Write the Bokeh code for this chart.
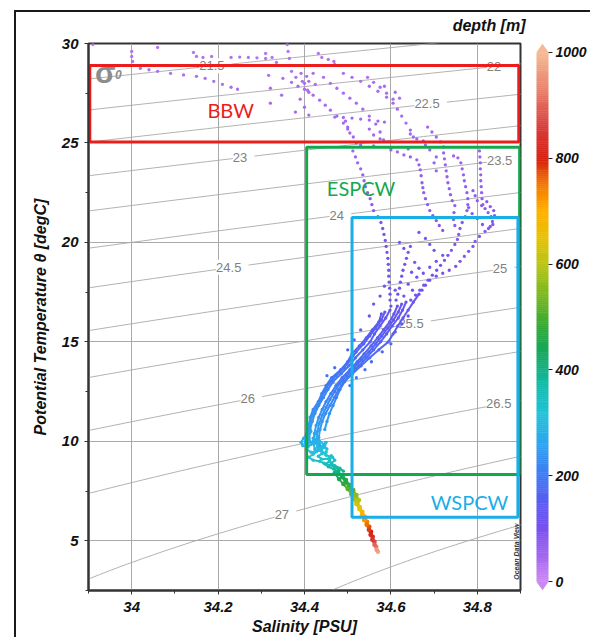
import numpy as np
from bokeh.plotting import figure
from bokeh.models import (ColumnDataSource, LinearColorMapper, FixedTicker,
                          NumeralTickFormatter, Label, LabelSet, Range1d, Title)
from bokeh.layouts import row
from bokeh.core.properties import value
from bokeh.embed import file_html
from bokeh.resources import INLINE

# ---------------- data: (salinity [PSU], potential temperature [degC], depth [m]) ----------------
upper_west = [
    (33.91, 29.95, 30), (34.0, 29.6, 32), (34.0, 29.35, 33), (34.002, 29.1, 34), (34.06, 29.8, 30),
    (34.02, 28.75, 36), (34.04, 28.68, 36), (34.06, 28.6, 37), (34.09, 28.5, 37), (34.12, 28.42, 38),
    (34.15, 28.35, 38), (34.17, 28.25, 39), (34.19, 28.1, 40), (34.21, 27.95, 40), (34.23, 27.8, 41),
    (34.245, 27.7, 42), (34.143, 29.55, 30), (34.15, 29.35, 31), (34.165, 29.3, 31), (34.185, 29.35, 31),
    (34.23, 29.3, 32), (34.25, 29.32, 32), (34.27, 29.3, 33), (34.29, 29.28, 33), (34.31, 29.25, 34),
    (34.31, 29.5, 30), (34.325, 29.3, 31), (34.335, 29.05, 33), (34.317, 28.4, 38), (34.321, 27.75, 42),
    (34.321, 27.0, 46), (34.347, 27.4, 44), (34.379, 26.55, 48), (34.36, 29.95, 28), (34.362, 29.6, 30),
    (34.365, 29.25, 32), (34.365, 28.9, 34), (34.37, 28.6, 36), (34.35, 28.25, 38), (34.37, 28.05, 40),
    (34.385, 27.85, 41), (34.4, 27.7, 42), (34.41, 27.55, 43), (34.38, 28.3, 38), (34.395, 28.1, 40),
]
upper_east = [
    (34.432, 29.5, 30), (34.44, 29.3, 31), (34.455, 29.2, 32), (34.468, 29.1, 33), (34.47, 28.95, 34),
    (34.392, 28.5, 36), (34.405, 28.35, 37), (34.42, 28.5, 36), (34.41, 28.1, 39), (34.425, 27.95, 40),
    (34.4, 28.0, 40),
    (34.407, 27.65, 42), (34.42, 27.4, 43), (34.435, 27.15, 44), (34.448, 26.9, 45), (34.46, 26.65, 46),
    (34.475, 26.35, 47), (34.49, 26.0, 48), (34.5, 25.7, 49), (34.513, 25.3, 50), (34.52, 25.0, 51),
    (34.444, 28.3, 38), (34.46, 28.0, 39), (34.475, 27.75, 41), (34.49, 27.5, 42), (34.505, 27.25, 43),
    (34.52, 27.0, 44), (34.535, 26.7, 45), (34.55, 26.35, 46), (34.565, 25.95, 48), (34.575, 25.55, 49),
    (34.583, 25.15, 50),
    (34.49, 28.5, 37), (34.51, 28.3, 38), (34.53, 28.1, 39), (34.55, 27.85, 40), (34.57, 27.6, 41),
    (34.59, 27.3, 42), (34.605, 27.0, 43), (34.615, 26.7, 44), (34.625, 26.35, 45), (34.635, 26.0, 46),
    (34.645, 25.65, 48), (34.652, 25.3, 49),
    (34.546, 28.3, 38), (34.56, 28.05, 39), (34.575, 27.8, 40), (34.59, 27.5, 41), (34.605, 27.2, 42),
    (34.585, 27.85, 40), (34.61, 27.55, 41), (34.62, 27.25, 42),
    (34.47, 26.3, 46), (34.49, 26.28, 46), (34.51, 26.25, 47), (34.53, 26.2, 47), (34.55, 26.15, 47),
    (34.57, 26.1, 48), (34.585, 26.05, 48),
    (34.495, 26.1, 47), (34.5, 25.8, 48), (34.505, 25.5, 49),
    (34.685, 25.8, 50), (34.695, 25.55, 51), (34.705, 25.3, 52), (34.715, 25.05, 53), (34.722, 24.8, 54),
    (34.645, 25.45, 50), (34.66, 25.2, 51), (34.675, 25.1, 52),
    (34.55, 25.7, 49), (34.56, 25.4, 50), (34.575, 25.2, 51),
    (34.39, 27.2, 44), (34.4, 26.8, 45), (34.41, 26.4, 46),
    (34.53, 24.9, 52), (34.56, 24.85, 53), (34.6, 24.75, 54), (34.64, 24.7, 55), (34.68, 24.9, 54),
]
mid_scatter = [
    (34.79, 22.6, 72), (34.795, 22.35, 74), (34.8, 22.1, 76), (34.81, 21.85, 78), (34.822, 22.05, 76),
    (34.83, 21.8, 78), (34.838, 21.6, 80), (34.84, 21.35, 82), (34.836, 20.9, 86), (34.826, 20.7, 88),
    (34.812, 20.9, 86), (34.8, 21.2, 84), (34.788, 21.45, 82), (34.78, 21.75, 80),
    (34.655, 19.0, 104), (34.665, 18.7, 106), (34.648, 18.5, 108), (34.66, 18.25, 110), (34.675, 18.45, 108),
    (34.69, 18.75, 106), (34.705, 19.05, 104), (34.72, 19.35, 102), (34.64, 17.9, 112), (34.65, 17.6, 114),
    (34.63, 17.3, 116), (34.61, 17.6, 114), (34.7, 19.6, 98), (34.69, 19.9, 96), (34.68, 20.2, 94),
    (34.665, 20.5, 92),
    (34.69, 24.65, 56), (34.705, 24.3, 58), (34.7, 24.0, 60), (34.705, 23.6, 62),
    (34.62, 20.0, 96), (34.63, 19.7, 98),
]
band_scatter = [
    (34.56, 16.9, 128), (34.575, 17.3, 124), (34.585, 17.8, 120), (34.55, 16.3, 136), (34.53, 15.6, 146),
    (34.515, 15.1, 154), (34.5, 14.6, 164), (34.61, 15.5, 150), (34.625, 15.9, 142), (34.64, 16.3, 134),
    (34.6, 14.9, 162), (34.58, 14.5, 168), (34.555, 14.0, 178), (34.54, 13.6, 186), (34.47, 13.7, 188),
    (34.452, 13.3, 196), (34.52, 13.2, 196), (34.505, 12.8, 204),
]
trace_m1 = [
    (34.512, 24.6, 52), (34.518, 24.3, 55), (34.523, 24.0, 58), (34.53, 23.7, 61), (34.535, 23.4, 64),
    (34.538, 23.1, 67), (34.541, 22.8, 70), (34.546, 22.5, 73), (34.552, 22.2, 76), (34.556, 21.9, 79),
    (34.56, 21.6, 82), (34.57, 21.3, 85), (34.577, 21.0, 88), (34.581, 20.7, 91), (34.584, 20.4, 94),
    (34.587, 20.1, 97), (34.589, 19.8, 100), (34.591, 19.5, 103), (34.593, 19.2, 106), (34.594, 18.9, 109),
    (34.595, 18.6, 112), (34.595, 18.3, 115), (34.596, 18.0, 118), (34.597, 17.7, 121), (34.598, 17.4, 124),
    (34.598, 17.1, 127), (34.6, 16.8, 130),
]
trace_m2 = [
    (34.60, 24.65, 54), (34.615, 24.55, 56), (34.63, 24.4, 58), (34.645, 24.3, 60), (34.66, 24.15, 62),
    (34.665, 23.9, 64), (34.668, 23.65, 66), (34.67, 23.35, 68), (34.672, 23.0, 70), (34.674, 22.75, 72),
    (34.676, 22.5, 74), (34.68, 22.2, 76), (34.685, 21.9, 78), (34.69, 21.6, 80), (34.697, 21.35, 82),
    (34.705, 21.1, 84), (34.712, 20.85, 86), (34.72, 20.6, 88),
]
trace_m3a = [
    (34.722, 24.5, 56), (34.724, 24.2, 58), (34.726, 23.9, 60), (34.728, 23.6, 62), (34.73, 23.3, 64),
    (34.732, 23.0, 66), (34.735, 22.7, 68), (34.738, 22.4, 70), (34.742, 22.1, 72), (34.748, 21.85, 74),
    (34.746, 21.5, 76), (34.745, 21.15, 78), (34.748, 20.85, 80),
]
trace_m3b = [
    (34.745, 24.35, 57), (34.755, 24.25, 58), (34.762, 24.0, 60), (34.765, 23.7, 62), (34.768, 23.4, 64),
    (34.77, 23.1, 66), (34.773, 22.8, 68), (34.776, 22.5, 70), (34.778, 22.2, 72), (34.778, 21.9, 74),
    (34.776, 21.6, 76), (34.772, 21.3, 78), (34.765, 21.0, 80), (34.76, 20.7, 82), (34.757, 20.4, 84),
    (34.754, 20.15, 86),
]
trace_m4 = [
    (34.805, 24.6, 55), (34.806, 24.3, 57), (34.807, 24.0, 59), (34.807, 23.7, 61), (34.808, 23.4, 63),
    (34.808, 23.1, 65), (34.809, 22.8, 67), (34.81, 22.5, 69), (34.811, 22.2, 71), (34.813, 21.9, 73),
    (34.818, 21.7, 75), (34.825, 21.5, 77), (34.832, 21.3, 79), (34.835, 21.05, 81), (34.83, 20.8, 83),
    (34.818, 20.55, 85), (34.805, 20.3, 87), (34.795, 20.05, 89), (34.79, 19.8, 91), (34.78, 19.55, 93),
    (34.77, 19.3, 95), (34.76, 19.05, 97), (34.75, 18.8, 99),
]
trace_b1 = [
    (34.748, 19.9, 90), (34.74, 19.6, 92), (34.732, 19.35, 94), (34.724, 19.1, 96), (34.715, 18.85, 98),
    (34.706, 18.6, 100), (34.696, 18.35, 102), (34.686, 18.1, 104), (34.676, 17.85, 106), (34.667, 17.6, 108),
    (34.657, 17.35, 110), (34.646, 17.1, 112),
]
trace_b2 = [
    (34.735, 18.6, 101), (34.72, 18.45, 103), (34.705, 18.3, 105), (34.69, 18.1, 107), (34.68, 17.85, 109),
    (34.672, 17.6, 111),
]
trace_b3 = [
    (34.645, 19.8, 92), (34.64, 19.5, 95), (34.636, 19.2, 98), (34.632, 18.9, 101), (34.628, 18.6, 104),
    (34.625, 18.3, 107), (34.622, 18.0, 110), (34.62, 17.7, 113), (34.616, 17.4, 116), (34.612, 17.1, 119),
]
band_d1 = [
    (34.578, 16.4, 135), (34.572, 16.0, 142), (34.557, 15.6, 150), (34.543, 15.2, 158), (34.527, 14.8, 166),
    (34.51, 14.4, 174), (34.50, 14.0, 182), (34.484, 13.6, 190), (34.463, 13.2, 198), (34.45, 12.8, 206),
    (34.44, 12.4, 214), (34.432, 12.0, 222), (34.42, 11.6, 232), (34.413, 11.2, 242), (34.41, 10.8, 252),
    (34.406, 10.4, 262), (34.402, 10.0, 275),
]
band_d1b = [
    (34.586, 16.5, 133), (34.578, 16.1, 140), (34.565, 15.7, 147), (34.551, 15.3, 155), (34.537, 14.9, 163),
    (34.52, 14.5, 171), (34.507, 14.1, 179), (34.492, 13.7, 187), (34.473, 13.3, 195), (34.457, 12.9, 203),
    (34.446, 12.5, 211), (34.437, 12.1, 219), (34.426, 11.7, 228), (34.418, 11.3, 238), (34.413, 10.9, 248),
    (34.409, 10.5, 258), (34.405, 10.1, 270),
]
band_d2 = [
    (34.598, 16.6, 130), (34.588, 16.2, 138), (34.575, 15.8, 145), (34.562, 15.4, 153), (34.552, 15.0, 160),
    (34.535, 14.6, 168), (34.518, 14.2, 176), (34.503, 13.8, 184), (34.485, 13.4, 192), (34.466, 13.0, 200),
    (34.454, 12.6, 208), (34.444, 12.2, 216), (34.433, 11.8, 225), (34.424, 11.4, 234), (34.418, 11.0, 244),
    (34.413, 10.6, 254), (34.41, 10.2, 266), (34.408, 9.8, 280),
]
band_d3 = [
    (34.615, 16.8, 125), (34.607, 16.4, 133), (34.597, 16.0, 141), (34.583, 15.6, 149), (34.569, 15.2, 157),
    (34.554, 14.8, 165), (34.538, 14.4, 173), (34.522, 14.0, 181), (34.505, 13.6, 189), (34.487, 13.2, 197),
    (34.473, 12.8, 205), (34.461, 12.4, 213), (34.45, 12.0, 222), (34.441, 11.6, 230), (34.433, 11.2, 240),
    (34.427, 10.8, 250), (34.423, 10.4, 262), (34.42, 10.0, 276), (34.424, 9.6, 292),
]
band_d3b = [
    (34.625, 16.9, 122), (34.617, 16.5, 130), (34.606, 16.1, 138), (34.593, 15.7, 146), (34.579, 15.3, 154),
    (34.565, 14.9, 162), (34.549, 14.5, 170), (34.532, 14.1, 178), (34.515, 13.7, 186), (34.497, 13.3, 194),
    (34.481, 12.9, 202), (34.47, 12.5, 210), (34.459, 12.1, 219), (34.45, 11.7, 227), (34.441, 11.3, 236),
    (34.434, 10.9, 246), (34.43, 10.5, 257), (34.427, 10.1, 270), (34.43, 9.7, 288),
]
band_d4 = [
    (34.635, 17.0, 120), (34.627, 16.6, 128), (34.617, 16.2, 136), (34.603, 15.8, 144), (34.59, 15.4, 152),
    (34.576, 15.0, 160), (34.56, 14.6, 168), (34.543, 14.2, 176), (34.526, 13.8, 184), (34.508, 13.4, 192),
    (34.49, 13.0, 200), (34.479, 12.6, 208), (34.469, 12.2, 216), (34.459, 11.8, 224), (34.449, 11.4, 233),
    (34.441, 11.0, 242), (34.436, 10.6, 252), (34.433, 10.2, 264), (34.436, 9.8, 280), (34.441, 9.4, 298),
]
band_d5 = [
    (34.665, 17.4, 115), (34.652, 17.0, 122), (34.64, 16.6, 130), (34.628, 16.2, 138), (34.616, 15.8, 146),
    (34.605, 15.4, 154), (34.594, 15.0, 162), (34.572, 14.6, 170), (34.551, 14.2, 178), (34.531, 13.8, 186),
    (34.511, 13.4, 194), (34.493, 13.0, 202), (34.482, 12.6, 210), (34.474, 12.2, 218), (34.466, 11.8, 226),
    (34.458, 11.4, 236), (34.452, 11.0, 246), (34.447, 10.6, 256),
]
cluster_l1 = [
    (34.405, 10.4, 268), (34.398, 10.15, 278), (34.392, 9.95, 288), (34.396, 9.78, 296), (34.408, 9.72, 300),
    (34.416, 9.85, 296), (34.41, 10.0, 290), (34.402, 9.9, 294), (34.405, 9.6, 308), (34.415, 9.45, 316),
    (34.428, 9.5, 314), (34.432, 9.65, 308), (34.442, 9.75, 304), (34.452, 9.62, 310), (34.45, 9.45, 318),
    (34.44, 9.38, 322), (34.432, 9.25, 330), (34.44, 9.1, 338), (34.455, 9.12, 338), (34.462, 9.28, 330),
    (34.458, 9.0, 345), (34.448, 8.85, 355), (34.455, 8.72, 365), (34.468, 8.6, 380), (34.478, 8.45, 400),
]
cluster_l2 = [
    (34.415, 10.5, 262), (34.41, 10.2, 272), (34.415, 9.95, 284), (34.425, 9.9, 290), (34.432, 10.05, 285),
    (34.43, 10.25, 278), (34.435, 10.0, 288), (34.445, 9.85, 295), (34.45, 9.95, 292), (34.447, 9.7, 305),
    (34.435, 9.55, 312), (34.42, 9.35, 322), (34.41, 9.2, 330), (34.42, 9.05, 338), (34.435, 9.0, 342),
    (34.445, 8.9, 350), (34.46, 8.8, 360), (34.47, 8.7, 370), (34.48, 8.55, 390),
]
cluster_l3 = [
    (34.425, 10.4, 266), (34.42, 10.15, 276), (34.43, 9.95, 286), (34.44, 9.5, 312), (34.45, 9.3, 325),
    (34.465, 9.2, 332), (34.47, 9.05, 340), (34.462, 8.9, 352), (34.47, 8.78, 362), (34.482, 8.65, 375),
    (34.49, 8.5, 395),
]
tail_t1 = [
    (34.478, 8.45, 410), (34.487, 8.2, 440), (34.495, 7.95, 470), (34.503, 7.7, 500), (34.51, 7.45, 530),
    (34.517, 7.2, 570), (34.523, 6.95, 610), (34.528, 6.7, 645), (34.534, 6.45, 680), (34.54, 6.2, 710),
    (34.545, 5.95, 740), (34.55, 5.7, 770), (34.554, 5.45, 800), (34.558, 5.2, 830), (34.562, 4.95, 870),
    (34.566, 4.7, 920), (34.57, 4.45, 980),
]
tail_t2 = [
    (34.47, 8.4, 405), (34.48, 8.1, 445), (34.49, 7.85, 480), (34.5, 7.6, 512), (34.508, 7.35, 548),
    (34.514, 7.1, 585), (34.52, 6.85, 622), (34.527, 6.6, 655), (34.533, 6.3, 695), (34.538, 6.05, 725),
    (34.544, 5.8, 755), (34.549, 5.55, 785), (34.553, 5.3, 815), (34.557, 5.05, 850), (34.562, 4.8, 895),
    (34.567, 4.55, 960),
]
tail_t3 = [
    (34.488, 8.3, 420), (34.496, 8.05, 455), (34.505, 7.8, 490), (34.513, 7.55, 520), (34.52, 7.3, 555),
    (34.526, 7.05, 595),
]

x_ticks = [34, 34.2, 34.4, 34.6, 34.8]
x_minor = [33.9, 34.1, 34.3, 34.5, 34.7, 34.9]
y_ticks = [5, 10, 15, 20, 25, 30]
y_minor = [2.5, 7.5, 12.5, 17.5, 22.5, 27.5]
cbar_ticks = [0, 200, 400, 600, 800, 1000]

sigma_levels = [21.5, 22, 22.5, 23, 23.5, 24, 24.5, 25, 25.5, 26, 26.5, 27, 27.5]
iso_label_levels = [21.5, 22, 22.5, 23, 23.5, 24, 24.5, 25, 25.5, 26, 26.5, 27]
iso_label_sal = [34.194, 34.847, 34.692, 34.259, 34.86, 34.483, 34.233, 34.861, 34.655, 34.277, 34.858, 34.356]

box_names = ["BBW", "ESPCW", "WSPCW"]
box_sal_min = [33.903, 34.405, 34.51]
box_sal_max = [34.896, 34.898, 34.894]
box_temp_min = [25.05, 8.33, 6.18]
box_temp_max = [28.9, 24.78, 21.25]
box_colors = ["#ec1c1c", "#14a84c", "#18aee8"]
box_label_sal = [34.229, 34.531, 34.782]
box_label_temp = [26.65, 22.75, 6.95]

cmap_vals = [0, 50, 100, 150, 200, 260, 320, 380, 430, 480, 540, 600, 650, 700, 750, 800, 860, 930, 1000]
cmap_cols = ["#cc88f2", "#a066f0", "#7850f0", "#5a5cf2", "#3f7af5", "#2ea4f0", "#20c4d8", "#14b8a0",
             "#14a860", "#30a838", "#78b820", "#b8c418", "#e8c200", "#ffb000", "#f57a00", "#d82010",
             "#d83c3c", "#e8806c", "#f6b890"]

FONT = "Liberation Sans"


# ---------------- helpers ----------------
def hex_to_rgb(h):
    h = h.lstrip("#")
    return tuple(int(h[i:i + 2], 16) for i in (0, 2, 4))


def build_palette(vals, cols, n=256):
    rgb = [hex_to_rgb(c) for c in cols]
    out = []
    for i in range(n):
        v = vals[0] + (vals[-1] - vals[0]) * i / (n - 1)
        k = 0
        while k < len(vals) - 2 and v > vals[k + 1]:
            k += 1
        f = (v - vals[k]) / (vals[k + 1] - vals[k])
        f = min(max(f, 0.0), 1.0)
        c = tuple(int(round(rgb[k][j] + (rgb[k + 1][j] - rgb[k][j]) * f)) for j in range(3))
        out.append("#%02x%02x%02x" % c)
    return out


def sigma0(S, T):
    # UNESCO EOS-80 density at p = 0, minus 1000
    rw = (999.842594 + 6.793952e-2 * T - 9.095290e-3 * T ** 2 + 1.001685e-4 * T ** 3
          - 1.120083e-6 * T ** 4 + 6.536332e-9 * T ** 5)
    A = 8.24493e-1 - 4.0899e-3 * T + 7.6438e-5 * T ** 2 - 8.2467e-7 * T ** 3 + 5.3875e-9 * T ** 4
    B = -5.72466e-3 + 1.0227e-4 * T - 1.6546e-6 * T ** 2
    C = 4.8314e-4
    return rw + A * S + B * S ** 1.5 + C * S ** 2 - 1000.0


def iso_temp(level, S):
    S = np.asarray(S, dtype=float)
    lo = np.full_like(S, -2.0)
    hi = np.full_like(S, 40.0)
    for _ in range(60):
        mid = 0.5 * (lo + hi)
        f = sigma0(S, mid) - level
        lo = np.where(f > 0, mid, lo)
        hi = np.where(f > 0, hi, mid)
    return 0.5 * (lo + hi)


palette = build_palette(cmap_vals, cmap_cols)
mapper = LinearColorMapper(palette=palette, low=0, high=1000)

# ---------------- main T-S figure ----------------
p = figure(width=530, height=637, x_range=Range1d(33.9, 34.9), y_range=Range1d(2.5, 30),
           output_backend="svg", toolbar_location=None, title=None,
           min_border_left=88, min_border_right=10, min_border_top=43, min_border_bottom=47,
           background_fill_color="white", border_fill_color=None)
p.outline_line_color = "#333333"
p.outline_line_width = 2

p.add_layout(Title(text="depth [m]", align="right", offset=-5, standoff=19,
                   text_font=FONT, text_font_size="16px", text_font_style="bold italic",
                   text_color="#111111"), "above")

p.xaxis.ticker = FixedTicker(ticks=x_ticks, minor_ticks=x_minor)
p.yaxis.ticker = FixedTicker(ticks=y_ticks, minor_ticks=y_minor)
p.xaxis.formatter = NumeralTickFormatter(format="0.[0]")
for ax in (p.xaxis[0], p.yaxis[0]):
    ax.axis_line_color = "#333333"
    ax.axis_line_width = 2
    ax.major_tick_line_color = "#333333"
    ax.minor_tick_line_color = "#333333"
    ax.major_tick_in = 0
    ax.major_tick_out = 4
    ax.minor_tick_in = 0
    ax.minor_tick_out = 3
    ax.major_label_text_font = FONT
    ax.major_label_text_font_style = "bold italic"
    ax.major_label_text_font_size = "15px"
    ax.major_label_text_color = "#111111"
    ax.axis_label_text_font = FONT
    ax.axis_label_text_font_style = "bold italic"
    ax.axis_label_text_font_size = "16px"
    ax.axis_label_text_color = "#111111"
p.xaxis.major_label_standoff = 7
p.yaxis.major_label_standoff = 6
p.xaxis.axis_label = "Salinity [PSU]"
p.xaxis.axis_label_standoff = 3
p.yaxis.axis_label = "Potential Temperature θ [degC]"
p.yaxis.axis_label_standoff = 10

p.xgrid.grid_line_color = "#a9a9a9"
p.ygrid.grid_line_color = "#a9a9a9"

# isopycnals (sigma-0)
s_grid = np.linspace(33.85, 34.95, 45)
iso_xs, iso_ys = [], []
for lv in sigma_levels:
    iso_xs.append(list(s_grid))
    iso_ys.append(list(iso_temp(lv, s_grid)))
p.multi_line(iso_xs, iso_ys, line_color="#b2b2b2", line_width=1, level="underlay")

lab_t = [float(iso_temp(lv, np.array([s]))[0]) for lv, s in zip(iso_label_levels, iso_label_sal)]
iso_src = ColumnDataSource(dict(x=iso_label_sal, y=lab_t,
                                text=[" %g " % lv for lv in iso_label_levels]))
p.add_layout(LabelSet(x="x", y="y", text="text", source=iso_src, text_align="center",
                      text_baseline="middle", text_font=value(FONT), text_font_size="13px",
                      text_color="#808080", background_fill_color="white", level="underlay"))

# data points
dot_groups = [upper_west, upper_east, mid_scatter, band_scatter, trace_m1, trace_m2, trace_m3a,
              trace_m3b, trace_m4, trace_b1, trace_b2, trace_b3, band_d1, band_d1b, band_d2, band_d3,
              band_d3b, band_d4, band_d5, cluster_l1, cluster_l2, cluster_l3]
deep_groups = [tail_t1, tail_t2, tail_t3]
connected = [band_d1, band_d1b, band_d2, band_d3, band_d3b, band_d4, band_d5, cluster_l1, cluster_l2,
             cluster_l3, tail_t1, tail_t2, tail_t3]

x0, y0, x1, y1, zm = [], [], [], [], []
for tr in connected:
    for a, b in zip(tr[:-1], tr[1:]):
        x0.append(a[0]); y0.append(a[1]); x1.append(b[0]); y1.append(b[1]); zm.append(0.5 * (a[2] + b[2]))
seg_src = ColumnDataSource(dict(x0=x0, y0=y0, x1=x1, y1=y1, z=zm))
p.segment(x0="x0", y0="y0", x1="x1", y1="y1", source=seg_src,
          line_color={"field": "z", "transform": mapper}, line_width=2.0)

ds, dt, dz, dsz = [], [], [], []
for grp in dot_groups:
    for s, t, z in grp:
        ds.append(s); dt.append(t); dz.append(z); dsz.append(3.3)
for grp in deep_groups:
    for s, t, z in grp:
        ds.append(s); dt.append(t); dz.append(z); dsz.append(4.6)
dot_src = ColumnDataSource(dict(x=ds, y=dt, z=dz, size=dsz))
p.scatter(x="x", y="y", size="size", source=dot_src,
          fill_color={"field": "z", "transform": mapper}, line_color=None)

# water-mass boxes
box_src = ColumnDataSource(dict(l=box_sal_min, r=box_sal_max, b=box_temp_min, t=box_temp_max,
                                c=box_colors))
p.quad(left="l", right="r", bottom="b", top="t", source=box_src, fill_color=None,
       line_color="c", line_width=3)
blab_src = ColumnDataSource(dict(x=box_label_sal, y=box_label_temp, text=box_names, c=box_colors))
p.text(x="x", y="y", text="text", source=blab_src, text_color="c", text_font=value("Lato"),
       text_font_size="20px", text_align="center", text_baseline="middle")

# annotations inside the frame
p.add_layout(Label(x=33.939, y=28.55, text="σ", text_font=FONT, text_font_size="30px",
                   text_font_style="bold", text_color="#8c8c8c", text_align="center",
                   text_baseline="alphabetic"))
p.add_layout(Label(x=33.969, y=28.45, text="0", text_font=FONT, text_font_size="12px",
                   text_font_style="bold italic", text_color="#8c8c8c", text_align="center",
                   text_baseline="alphabetic"))
p.add_layout(Label(x=34.8915, y=4.45, text="Ocean Data View", angle=np.pi / 2, text_font=FONT,
                   text_font_size="7px", text_font_style="bold italic", text_color="#333333",
                   text_align="center", text_baseline="middle"))

# ---------------- colour bar figure ----------------
cb = figure(width=60, height=637, x_range=Range1d(0, 1), y_range=Range1d(-16.45, 1016.45),
            output_backend="svg", toolbar_location=None, title=None, y_axis_location="right",
            min_border_left=6, min_border_right=42, min_border_top=34, min_border_bottom=38,
            background_fill_color="white", border_fill_color=None)
cb.xaxis.visible = False
cb.xgrid.visible = False
cb.ygrid.visible = False
cb.outline_line_color = None
edges = np.linspace(0, 1000, len(palette) + 1)
cb.quad(left=0, right=1, bottom=edges[:-1], top=edges[1:], fill_color=palette,
        line_color=palette, line_width=0.5)
cb.patches(xs=[[0, 1, 0.5], [0, 1, 0.5]], ys=[[1000, 1000, 1016], [0, 0, -16]],
           fill_color=[palette[-1], palette[0]], line_color=None)
cax = cb.yaxis[0]
cax.ticker = FixedTicker(ticks=cbar_ticks)
cax.axis_line_color = None
cax.major_tick_in = 0
cax.major_tick_out = 4
cax.major_tick_line_color = "#222222"
cax.minor_tick_out = 0
cax.minor_tick_in = 0
cax.major_label_standoff = 3
cax.major_label_text_font = FONT
cax.major_label_text_font_style = "bold italic"
cax.major_label_text_font_size = "14px"
cax.major_label_text_color = "#111111"

layout = row(p, cb, styles={"box-shadow": "inset 14px 10px 0 0 #ffffff, inset 16px 12px 0 0 #1a1a1a"})

open("out.html", "w").write(file_html(layout, INLINE))
